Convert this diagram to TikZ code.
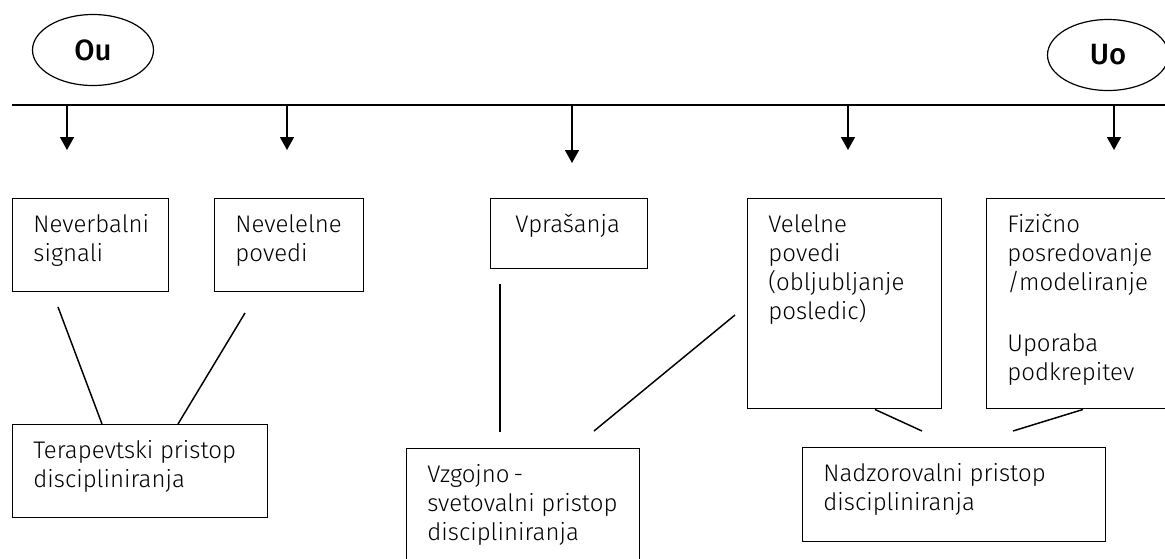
\documentclass[tikz,border=0pt]{standalone}
\usepackage{fontspec}
\setmainfont{Fira Sans}[UprightFont=* Light, BoldFont=* Medium]
\usetikzlibrary{arrows.meta,calc,shapes.geometric}

% box text: width, height (px), text
\newcommand{\kasta}[3]{\parbox[t][\dimexpr #2pt*3/4\relax][t]{\dimexpr #1pt*3/4\relax}{\raggedright\leftskip=15.5pt\rule{0pt}{25.5pt}#3}}

\tikzset{
  kos/.style={draw, line width=1.1pt, rectangle, inner sep=0pt, anchor=north west,
    font=\fontsize{18}{21.75}\selectfont},
  pol/.style={draw, ellipse, line width=0.9pt, inner sep=0pt,
    minimum width=90.75pt, minimum height=53.25pt,
    font=\fontsize{22}{26}\selectfont\bfseries},
  puscica/.style={line width=1.2pt, -{Triangle[width=10.5pt,length=9.75pt]}},
  crta/.style={line width=1.1pt}
}

\begin{document}
\begin{tikzpicture}[x=0.75pt,y=-0.75pt]
\useasboundingbox (0,0) rectangle (1165,558);

% poli
\node[pol] (ou) at (93,50) {Ou};
\node[pol] (uo) at (1108,55) {Uo};

% os
\coordinate (os) at (12,105);
\coordinate (oskon) at (1170,105);
\draw[crta] (os) -- (oskon);
\foreach \x/\y [count=\i] in {67/150, 287/150, 572/163, 848/150, 1114/150} {
  \coordinate (z\i) at (\x,105);
  \coordinate (k\i) at (\x,\y);
  \draw[puscica] (z\i) -- (k\i);
}

% oblike
\node[kos] (never) at (12,198) {\kasta{156}{93}{Neverbalni\\signali}};
\node[kos] (nevel) at (214,198) {\kasta{149}{93}{Nevelelne\\povedi}};
\node[kos] (vpras) at (490,198) {\kasta{157}{70}{\hspace*{3pt}Vprašanja}};
\node[kos] (velel) at (747,198) {\kasta{194}{210}{Velelne\\povedi\\(obljubljanje\\posledic)}};
\node[kos] (fizic) at (986,198) {\kasta{195}{210}{Fizično\\posredovanje\\/modeliranje\\[24pt]Uporaba\\podkrepitev}};

% pristopi
\node[kos] (terap) at (12,424) {\kasta{255}{93}{Terapevtski pristop\\discipliniranja}};
\node[kos] (vzgoj) at (406,448) {\kasta{233}{125}{Vzgojno\,-\\svetovalni pristop\\discipliniranja}};
\node[kos] (nadzo) at (802,447) {\kasta{303}{94}{Nadzorovalni pristop\\discipliniranja}};

% povezave
\coordinate (l1) at (58,307);
\coordinate (l2) at (245,313);
\coordinate (l3a) at (500,284);
\coordinate (l3b) at (500,432);
\coordinate (l4a) at (735,315);
\coordinate (l4b) at (594,431);
\coordinate (l5) at (922,431);
\coordinate (l6) at (1013,431);
\draw[crta] (l1) -- ($(terap.north west)+(90,0)$);
\draw[crta] (l2) -- ($(terap.north west)+(166,0)$);
\draw[crta] (l3a) -- (l3b);
\draw[crta] (l4a) -- (l4b);
\draw[crta] ($(velel.south west)+(128,0)$) -- (l5);
\draw[crta] ($(fizic.south west)+(97,0)$) -- (l6);

\end{tikzpicture}
\end{document}
